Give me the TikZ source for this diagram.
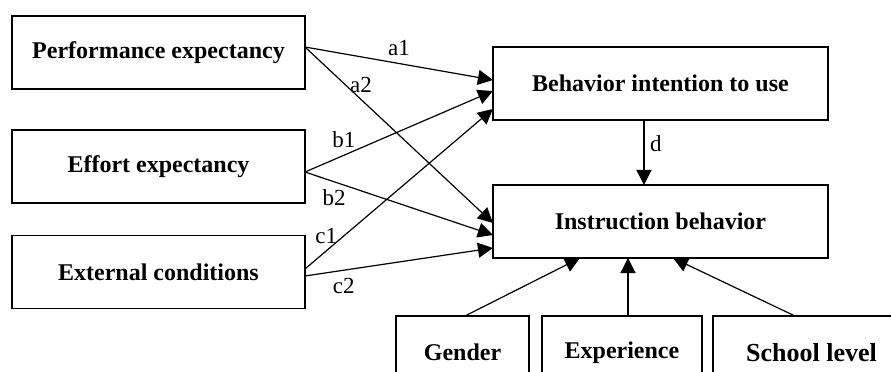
\documentclass[tikz,border=0pt,12pt]{standalone}
\usepackage{fontspec}
\setmainfont{Liberation Serif}
\usepackage{xcolor}
\usepackage{tikz-network}
\usetikzlibrary{arrows.meta}

\newcommand{\lblfont}{\fontsize{11.5}{13}\selectfont}
\SetVertexStyle[TextFont=\normalsize\bfseries]
\SetEdgeStyle[LineWidth=0.6pt, Color=black, TextFont=\lblfont, TextFillOpacity=0]
\tikzset{
  boxnode/.style={rectangle, draw=black, line width=0.65pt, inner sep=0pt},
  pathtip/.style={-{Triangle[length=7.5pt,width=7.5pt]}}
}

\begin{document}
\begin{tikzpicture}
        \useasboundingbox (0,0) rectangle (15.658,-6.537);
        \Vertex[x=2.785, y=-0.923, label={Performance expectancy}, color=white, style={boxnode, minimum width=146.5pt, minimum height=36.5pt}]{pe}
        \Vertex[x=2.785, y=-2.926, label={Effort expectancy}, color=white, style={boxnode, minimum width=146.5pt, minimum height=36.5pt}]{ee}
        \Vertex[x=2.785, y=-4.780, label={External conditions}, color=white, style={boxnode, minimum width=146.5pt, minimum height=36.5pt}]{ec}
        \Vertex[x=11.607, y=-1.467, label={Behavior intention to use}, color=white, style={boxnode, minimum width=167.5pt, minimum height=36.5pt}]{bi}
        \Vertex[x=11.607, y=-3.892, label={Instruction behavior}, color=white, style={boxnode, minimum width=167.5pt, minimum height=36.5pt}]{ib}
        \Vertex[x=8.128, y=-6.194, label={Gender}, color=white, style={boxnode, minimum width=66.5pt, minimum height=36.5pt}]{ge}
        \Vertex[x=10.930, y=-6.194, label={Experience}, color=white, style={boxnode, minimum width=80pt, minimum height=36.5pt}]{ex}
        \Vertex[x=14.260, y=-6.194, label={\fontsize{13}{15}\selectfont School level}, color=white, style={boxnode, minimum width=98.5pt, minimum height=36.5pt}]{sl}
        % end points on the box borders
        \coordinate (pe-out) at (5.360,-0.826);
        \coordinate (ee-out) at (5.360,-3.023);
        \coordinate (ec-out1) at (5.360,-4.727);
        \coordinate (ec-out2) at (5.360,-4.850);
        \coordinate (bi-in1) at (8.663,-1.406);
        \coordinate (bi-in2) at (8.663,-1.599);
        \coordinate (bi-in3) at (8.663,-1.915);
        \coordinate (bi-out) at (11.317,-2.109);
        \coordinate (ib-in1) at (8.663,-3.919);
        \coordinate (ib-in2) at (8.663,-4.130);
        \coordinate (ib-in3) at (8.663,-4.358);
        \coordinate (ib-top) at (11.317,-3.251);
        \coordinate (ib-bot1) at (10.192,-4.534);
        \coordinate (ib-bot2) at (11.036,-4.534);
        \coordinate (ib-bot3) at (11.827,-4.534);
        \coordinate (ge-out) at (8.171,-5.553);
        \coordinate (ex-out) at (11.036,-5.553);
        \coordinate (sl-out) at (13.970,-5.553);
        % paths
        \Edge[label=a1, position=above, distance=0.5, style={pathtip}](pe-out)(bi-in1)
        \Edge[label=a2, position=right, distance=0.2, style={pathtip}](pe-out)(ib-in1)
        \Edge[label=b1, position=above, distance=0.19, style={pathtip}](ee-out)(bi-in2)
        \Edge[label=b2, position=below, distance=0.14, style={pathtip}](ee-out)(ib-in2)
        \Edge[label=c1, position=above, distance=0.1, style={pathtip}](ec-out1)(bi-in3)
        \Edge[label=c2, position=below, distance=0.19, style={pathtip}](ec-out2)(ib-in3)
        \Edge[label=d, position=right, distance=0.35, style={pathtip}](bi-out)(ib-top)
        \Edge[style={pathtip}](ge-out)(ib-bot1)
        \Edge[style={pathtip}](ex-out)(ib-bot2)
        \Edge[style={pathtip}](sl-out)(ib-bot3)
    \end{tikzpicture}
\end{document}
